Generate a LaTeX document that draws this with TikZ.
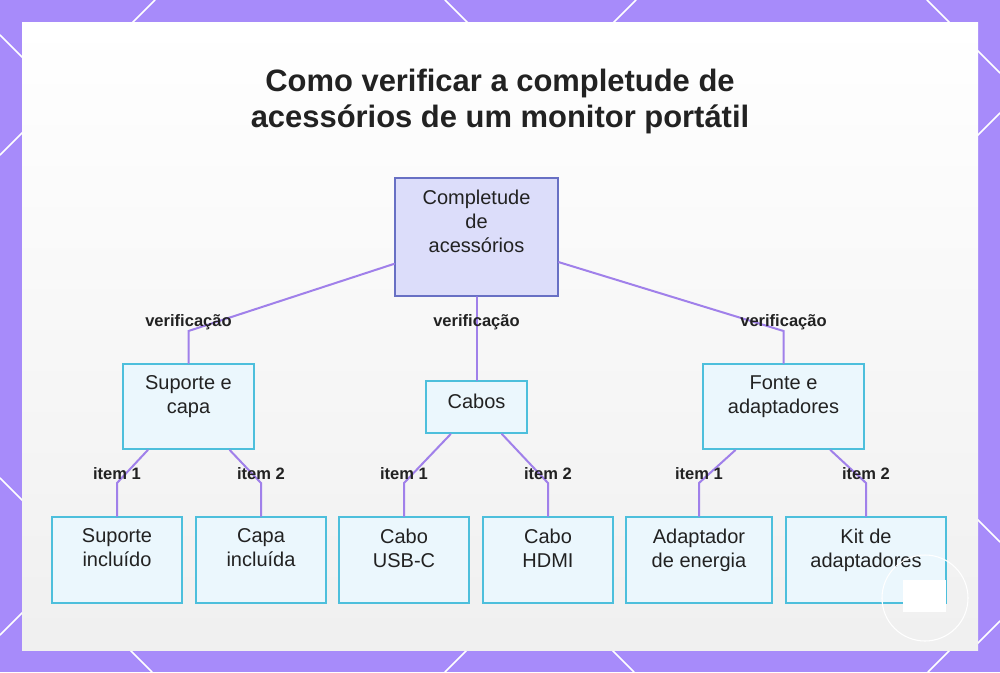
\documentclass[tikz,border=0pt]{standalone}
\usepackage{fontspec}
\setmainfont{Liberation Sans}
\usetikzlibrary{positioning}
\definecolor{bgPurple}{HTML}{A78BFA}
\definecolor{linkPurple}{HTML}{A080EA}
\definecolor{rootFill}{HTML}{DCDDFA}
\definecolor{rootLine}{HTML}{6870C4}
\definecolor{boxFill}{HTML}{EBF7FD}
\definecolor{boxLine}{HTML}{4DBFDC}
\definecolor{textDark}{HTML}{222222}

\begin{document}
\begin{tikzpicture}[x=0.75pt, y=-0.75pt, line cap=round,
    rootbox/.style={draw=rootLine, fill=rootFill, line width=1.5pt, text=textDark,
        minimum width=122pt, minimum height=88.5pt, align=center, font=\fontsize{15}{18}\selectfont},
    catbox/.style={draw=boxLine, fill=boxFill, line width=1.5pt, text=textDark,
        minimum height=63.75pt, align=center, font=\fontsize{15}{18}\selectfont},
    leafbox/.style={catbox, minimum height=64.5pt},
    link/.style={draw=linkPurple, line width=1.5pt},
    lbl/.style={text=textDark, inner sep=0pt, font=\fontsize{12.4}{14}\bfseries},
    deco/.style={white, line width=1.1pt}]
        \useasboundingbox (0,0) rectangle (1000,672);
        % frame
        \fill[bgPurple] (0,0) rectangle (1000,672);
        \draw[deco] (0,35) -- (27,62);
        \draw[deco] (155,0) -- (127,28);
        \draw[deco] (445,0) -- (473,28);
        \draw[deco] (636,0) -- (608,28);
        \draw[deco] (0,155) -- (27,128);
        \draw[deco] (0,478) -- (27,505);
        \draw[deco] (0,635) -- (27,608);
        \draw[deco] (125,645) -- (152,672);
        \draw[deco] (472,645) -- (445,672);
        \draw[deco] (607,645) -- (634,672);
        \draw[deco] (955,645) -- (928,672);
        \draw[deco] (1000,113) -- (973,140);
        \draw[deco] (973,515) -- (1000,542);
        \draw[deco] (1000,621) -- (973,648);
        \draw[deco] (927,0) -- (1000,73);
        \shade[top color=white, bottom color=black!6] (22,22) rectangle (978,650);

        \node[text=textDark, align=center, font=\fontsize{23.2}{27}\bfseries] (title) at (500,101)
            {Como verificar a completude de\\acessórios de um monitor portátil};

        % boxes
        \node[rootbox] (root) at (476.5,237) {Completude\\de\\acessórios\\[6pt]~};
        \node[catbox, minimum width=98pt] (supCapa) at (188.5,406.5) {Suporte e\\capa\\~};
        \node[catbox, minimum width=75.75pt, minimum height=39pt] (cabos) at (476.5,407) {Cabos\\[-9pt]~};
        \node[catbox, minimum width=120.75pt] (fonte) at (783.5,406.5) {Fonte e\\adaptadores\\~};
        \node[leafbox, minimum width=97.5pt] (supIncl) at (117,560) {Suporte\\incluído\\~};
        \node[leafbox, minimum width=97.5pt] (capaIncl) at (261,560) {Capa\\incluída\\~};
        \node[leafbox, minimum width=97.5pt] (usbc) at (404,560) {Cabo\\USB-C\\~};
        \node[leafbox, minimum width=97.5pt] (hdmi) at (548,560) {Cabo\\HDMI\\~};
        \node[leafbox, minimum width=109.5pt] (energia) at (699,560) {Adaptador\\de energia\\~};
        \node[leafbox, minimum width=120pt] (kit) at (866,560) {Kit de\\adaptadores\\~};

        % bends
        \coordinate (bSup) at (188.5,331);
        \coordinate (bCab) at (476.5,331);
        \coordinate (bFon) at (783.5,331);
        \coordinate (bSupIncl) at (117,483);
        \coordinate (bCapaIncl) at (261,483);
        \coordinate (bUsbc) at (404,483);
        \coordinate (bHdmi) at (548,483);
        \coordinate (bEnergia) at (699,483);
        \coordinate (bKit) at (866,483);

        \draw[link] (root) -- (bSup) -- (supCapa);
        \draw[link] (root) -- (cabos);
        \draw[link] (root) -- (bFon) -- (fonte);
        \draw[link] (supCapa) -- (bSupIncl) -- (supIncl);
        \draw[link] (supCapa) -- (bCapaIncl) -- (capaIncl);
        \draw[link] (cabos) -- (bUsbc) -- (usbc);
        \draw[link] (cabos) -- (bHdmi) -- (hdmi);
        \draw[link] (fonte) -- (bEnergia) -- (energia);
        \draw[link] (fonte) -- (bKit) -- (kit);

        % labels
        \node[lbl, yshift=6.75pt] (lSup) at (bSup) {verificação};
        \node[lbl, yshift=6.75pt] (lCab) at (bCab) {verificação};
        \node[lbl, yshift=6.75pt] (lFon) at (bFon) {verificação};
        \node[lbl, yshift=6.75pt] (lSupIncl) at (bSupIncl) {item 1};
        \node[lbl, yshift=6.75pt] (lCapaIncl) at (bCapaIncl) {item 2};
        \node[lbl, yshift=6.75pt] (lUsbc) at (bUsbc) {item 1};
        \node[lbl, yshift=6.75pt] (lHdmi) at (bHdmi) {item 2};
        \node[lbl, yshift=6.75pt] (lEnergia) at (bEnergia) {item 1};
        \node[lbl, yshift=6.75pt] (lKit) at (bKit) {item 2};

        % overlay in the corner
        \draw[white, line width=0.8pt] (925,598) circle (43);
        \fill[white] (903,580) rectangle (946,612);
    \end{tikzpicture}
\end{document}
